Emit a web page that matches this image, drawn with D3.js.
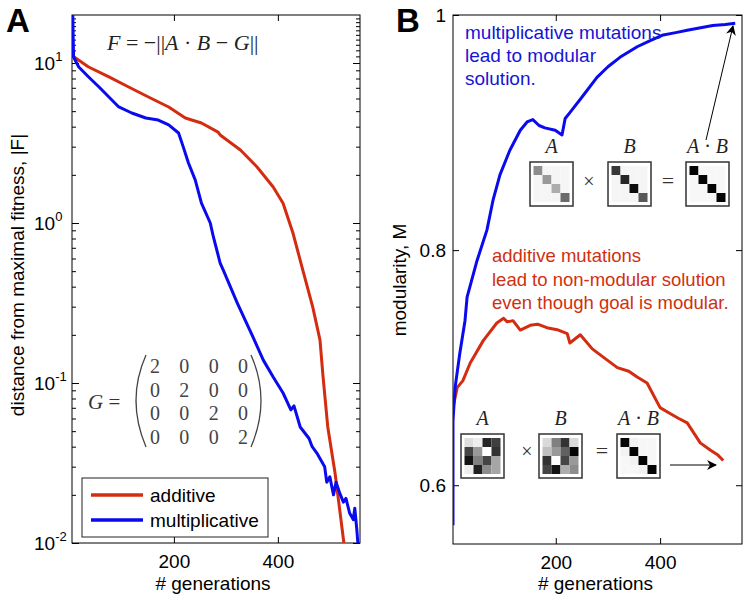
<!DOCTYPE html>
<html>
<head>
<meta charset="utf-8">
<script src="https://cdn.jsdelivr.net/npm/d3@7"></script>
<style>
  body { margin: 0; background: #fff; }
  svg text { font-family: "Liberation Sans", Arial, sans-serif; }
  .serif { font-family: "Liberation Serif", "Times New Roman", serif; }
</style>
</head>
<body>
<svg id="chart" width="748" height="600"></svg>
<script>
// ---- data ----
// panel A: distance from maximal fitness |F| vs generation
var genA_add = [8, 36, 75, 113, 151, 190, 222, 253, 285, 289, 328, 360, 391, 410, 429, 448, 467, 481, 487, 496, 510, 519, 527, 532];
var fitA_add = [10.9, 9.44, 8.18, 7.08, 6.13, 5.31, 4.53, 4.22, 3.70, 3.55, 2.86, 2.24, 1.68, 1.33, 0.866, 0.508, 0.299, 0.186, 0.109, 0.0531, 0.0274, 0.0161, 0.0100, 0.0080];

var genA_mul = [5, 6, 7, 17, 36, 56, 75, 94, 119, 146, 170, 190, 209, 218, 228, 241, 253, 270, 276, 289, 295, 322, 328, 352, 372, 391, 410, 425, 431, 443, 460, 466, 475, 490, 494, 500, 507, 512, 519, 526, 531, 538, 545, 548, 552, 555];
var fitA_mul = [25, 16, 10.9, 9.44, 8.18, 7.08, 6.13, 5.31, 4.87, 4.53, 4.40, 4.10, 3.65, 2.99, 2.37, 1.86, 1.33, 1.0, 0.818, 0.562, 0.508, 0.316, 0.286, 0.194, 0.139, 0.109, 0.0866, 0.068, 0.072, 0.0531, 0.045, 0.040, 0.0365, 0.030, 0.024, 0.0259, 0.020, 0.024, 0.0205, 0.018, 0.019, 0.0154, 0.014, 0.0165, 0.012, 0.009];

// panel B: modularity M vs generation
var genB_mul = [3, 3, 3, 7, 16, 26, 30, 49, 68, 80, 93, 112, 132, 145, 156, 168, 179, 199, 212, 218, 227, 250, 279, 300, 323, 356, 380, 406, 430, 452, 475, 501, 525, 544];
var modB_mul = [0.566, 0.593, 0.655, 0.683, 0.712, 0.740, 0.760, 0.791, 0.817, 0.843, 0.864, 0.885, 0.902, 0.909, 0.911, 0.906, 0.904, 0.902, 0.898, 0.912, 0.917, 0.930, 0.947, 0.956, 0.964, 0.973, 0.978, 0.983, 0.985, 0.987, 0.989, 0.991, 0.992, 0.993];

var genB_add = [3, 11, 22, 36, 61, 87, 100, 107, 118, 132, 151, 165, 183, 205, 222, 227, 247, 270, 291, 318, 340, 356, 375, 400, 419, 435, 452, 477, 496, 510, 521];
var modB_add = [0.666, 0.683, 0.689, 0.704, 0.723, 0.738, 0.742, 0.739, 0.740, 0.732, 0.736, 0.737, 0.734, 0.732, 0.729, 0.721, 0.728, 0.716, 0.709, 0.700, 0.697, 0.692, 0.687, 0.666, 0.661, 0.657, 0.653, 0.636, 0.630, 0.626, 0.621];

// axis ticks
var xTicks = [200, 400];
var logTicksA = [0.01, 0.1, 1, 10];
var logExpA = ["-2", "-1", "0", "1"];
var yTicksB = [0.6, 0.8, 1];
var yTickLabelsB = ["0.6", "0.8", "1"];

// legend
var seriesNames = ["additive", "multiplicative"];
var seriesColors = ["#d42c10", "#0a0aee"];

// goal matrix G
var goalG = [[2, 0, 0, 0], [0, 2, 0, 0], [0, 0, 2, 0], [0, 0, 0, 2]];

// inset matrices, grey level 0 = black, 1 = white
var topA  = [[0.55, 0.96, 0.96, 0.96], [0.96, 0.6, 0.96, 0.96], [0.96, 0.96, 0.68, 0.96], [0.96, 0.96, 0.96, 0.42]];
var topB  = [[0.22, 0.96, 0.96, 0.96], [0.96, 0.15, 0.96, 0.96], [0.96, 0.96, 0.05, 0.96], [0.96, 0.96, 0.96, 0.35]];
var topAB = [[0.02, 0.97, 0.97, 0.97], [0.97, 0.02, 0.97, 0.97], [0.97, 0.97, 0.02, 0.97], [0.97, 0.97, 0.97, 0.02]];
var botA  = [[0.87, 0.93, 0.15, 0.25], [0.27, 0.6, 1.0, 0.2], [0.08, 0.5, 0.27, 0.65], [0.93, 0.13, 0.55, 0.65]];
var botB  = [[0.85, 0.5, 0.2, 0.85], [0.75, 0.6, 0.38, 0.02], [0.2, 1.0, 0.27, 0.6], [0.27, 0.08, 0.68, 0.55]];
var botAB = [[0.02, 0.95, 0.97, 0.97], [0.95, 0.02, 0.97, 0.97], [0.97, 0.95, 0.02, 0.97], [0.97, 0.97, 0.95, 0.02]];

var svg = d3.select("#chart");

// ---------------- panel A ----------------
var mA = {left: 72, right: 360, top: 15, bottom: 543};
var xA = d3.scaleLinear().domain([4, 558]).range([mA.left, mA.right]);
var yA = d3.scaleLog().domain([0.01, Math.pow(10, 1.3)]).range([mA.bottom, mA.top]);

svg.append("clipPath").attr("id", "clipA")
  .append("rect").attr("x", mA.left).attr("y", mA.top)
  .attr("width", mA.right - mA.left).attr("height", mA.bottom - mA.top);

var gA = svg.append("g");

// minor log ticks, both sides
var minorA = yA.ticks().filter(function(d) { return logTicksA.indexOf(d) < 0; });
minorA = minorA.concat([11, 12, 13, 14, 15, 16, 17, 18, 19].filter(function(d){ return d < yA.domain()[1]; }));

gA.append("g").attr("transform", "translate(" + mA.left + ",0)")
  .call(d3.axisLeft(yA).tickValues(minorA).tickSize(-4).tickFormat(""));
gA.append("g").attr("transform", "translate(" + mA.right + ",0)")
  .call(d3.axisRight(yA).tickValues(minorA).tickSize(-4).tickFormat(""));
gA.append("g").attr("transform", "translate(" + mA.left + ",0)")
  .call(d3.axisLeft(yA).tickValues(logTicksA).tickSize(-7).tickFormat(""));
gA.append("g").attr("transform", "translate(" + mA.right + ",0)")
  .call(d3.axisRight(yA).tickValues(logTicksA).tickSize(-7).tickFormat(""));

gA.append("g").attr("class", "x-axis").attr("transform", "translate(0," + mA.bottom + ")")
  .call(d3.axisBottom(xA).tickValues(xTicks).tickSize(-6).tickPadding(12))
  .style("font-size", "19px");
gA.append("g").attr("transform", "translate(0," + mA.top + ")")
  .call(d3.axisTop(xA).tickValues(xTicks).tickSize(-6).tickFormat(""));

gA.selectAll(".domain").remove();
gA.selectAll(".tick line").attr("stroke", "#000");
gA.selectAll(".tick text").attr("fill", "#000").style("font-family", "Liberation Sans, Arial, sans-serif");

gA.append("rect").attr("x", mA.left).attr("y", mA.top)
  .attr("width", mA.right - mA.left).attr("height", mA.bottom - mA.top)
  .attr("fill", "none").attr("stroke", "#000").attr("stroke-width", 1);

// log tick labels with superscripts
var lab = gA.selectAll(".loglab").data(logTicksA).enter().append("text")
  .attr("class", "loglab")
  .attr("x", 34)
  .attr("y", function(d) { return yA(d) + 7; })
  .style("font-size", "19px");
lab.append("tspan").text("10");
lab.append("tspan").attr("dy", -9).style("font-size", "13px")
  .text(function(d, i) { return logExpA[i]; });

// curves
var lineA = d3.line().x(function(d) { return xA(d[0]); }).y(function(d) { return yA(d[1]); });
var curvesA = [d3.zip(genA_add, fitA_add), d3.zip(genA_mul, fitA_mul)];
gA.append("g").attr("clip-path", "url(#clipA)")
  .selectAll("path").data(curvesA).enter().append("path")
  .attr("d", lineA)
  .attr("fill", "none")
  .attr("stroke", function(d, i) { return seriesColors[i]; })
  .attr("stroke-width", 3)
  .attr("stroke-linejoin", "round");

// formula
var f = gA.append("text").attr("class", "serif").attr("x", 107).attr("y", 50)
  .style("font-size", "22px").attr("fill", "#222");
f.append("tspan").style("font-style", "italic").text("F");
f.append("tspan").text(" = \u2212||");
f.append("tspan").style("font-style", "italic").text("A");
f.append("tspan").text(" \u00b7 ");
f.append("tspan").style("font-style", "italic").text("B");
f.append("tspan").text(" \u2212 ");
f.append("tspan").style("font-style", "italic").text("G");
f.append("tspan").text("||");

// G matrix
var gG = gA.append("g");
var gText = gG.append("text").attr("class", "serif").attr("x", 88).attr("y", 409)
  .style("font-size", "21px").attr("fill", "#333");
gText.append("tspan").style("font-style", "italic").text("G");
gText.append("tspan").text(" =");
var colG = d3.scalePoint().domain([0, 1, 2, 3]).range([155, 243]);
var rowG = d3.scalePoint().domain([0, 1, 2, 3]).range([373, 444]);
goalG.forEach(function(row, r) {
  gG.selectAll(null).data(row).enter().append("text").attr("class", "serif")
    .attr("x", function(d, c) { return colG(c); })
    .attr("y", rowG(r))
    .attr("text-anchor", "middle")
    .style("font-size", "20px").attr("fill", "#444")
    .text(function(d) { return d; });
});
gG.append("path").attr("d", "M146,355 Q126,400 146,447").attr("fill", "none").attr("stroke", "#444").attr("stroke-width", 1.3);
gG.append("path").attr("d", "M251,355 Q271,400 251,447").attr("fill", "none").attr("stroke", "#444").attr("stroke-width", 1.3);

// legend
var leg = gA.append("g").attr("transform", "translate(82,478)");
leg.append("rect").attr("width", 186).attr("height", 59).attr("fill", "#fff").attr("stroke", "#222").attr("stroke-width", 1);
var li = leg.selectAll(".li").data(seriesNames).enter().append("g")
  .attr("transform", function(d, i) { return "translate(0," + (17 + i * 25) + ")"; });
li.append("line").attr("x1", 9).attr("x2", 61)
  .attr("stroke", function(d, i) { return seriesColors[i]; }).attr("stroke-width", 3.5);
li.append("text").attr("x", 68).attr("y", 7).style("font-size", "19px").text(function(d) { return d; });

// axis labels
gA.append("text").attr("x", (mA.left + mA.right) / 2 - 3).attr("y", 590)
  .attr("text-anchor", "middle").style("font-size", "19px").text("# generations");
gA.append("text").attr("transform", "translate(24,275) rotate(-90)")
  .attr("text-anchor", "middle").style("font-size", "19px").text("distance from maximal fitness, |F|");
gA.append("text").attr("x", 6).attr("y", 32).style("font-size", "33px").style("font-weight", "bold").text("A");

// ---------------- panel B ----------------
var mB = {left: 453, right: 742, top: 15, bottom: 544};
var xB = d3.scaleLinear().domain([3, 557]).range([mB.left, mB.right]);
var yB = d3.scaleLinear().domain([0.55, 1]).range([mB.bottom, mB.top]);

svg.append("clipPath").attr("id", "clipB")
  .append("rect").attr("x", mB.left).attr("y", mB.top)
  .attr("width", mB.right - mB.left).attr("height", mB.bottom - mB.top);

var gB = svg.append("g");
gB.append("g").attr("transform", "translate(" + mB.left + ",0)")
  .call(d3.axisLeft(yB).tickValues(yTicksB).tickSize(-6).tickPadding(7)
    .tickFormat(function(d, i) { return yTickLabelsB[i]; }))
  .style("font-size", "19px");
gB.append("g").attr("transform", "translate(" + mB.right + ",0)")
  .call(d3.axisRight(yB).tickValues(yTicksB).tickSize(-6).tickFormat(""));
gB.append("g").attr("transform", "translate(0," + mB.bottom + ")")
  .call(d3.axisBottom(xB).tickValues(xTicks).tickSize(-6).tickPadding(12))
  .style("font-size", "19px");
gB.append("g").attr("transform", "translate(0," + mB.top + ")")
  .call(d3.axisTop(xB).tickValues(xTicks).tickSize(-6).tickFormat(""));
gB.selectAll(".domain").remove();
gB.selectAll(".tick line").attr("stroke", "#000");
gB.selectAll(".tick text").attr("fill", "#000").style("font-family", "Liberation Sans, Arial, sans-serif");

gB.append("rect").attr("x", mB.left).attr("y", mB.top)
  .attr("width", mB.right - mB.left).attr("height", mB.bottom - mB.top)
  .attr("fill", "none").attr("stroke", "#000").attr("stroke-width", 1);

var lineB = d3.line().x(function(d) { return xB(d[0]); }).y(function(d) { return yB(d[1]); });
var curvesB = [d3.zip(genB_add, modB_add), d3.zip(genB_mul, modB_mul)];
gB.append("g").attr("clip-path", "url(#clipB)")
  .selectAll("path").data(curvesB).enter().append("path")
  .attr("d", lineB)
  .attr("fill", "none")
  .attr("stroke", function(d, i) { return seriesColors[i]; })
  .attr("stroke-width", 3)
  .attr("stroke-linejoin", "round");

// annotations
var blueNote = ["multiplicative mutations", "lead to modular", "solution."];
var redNote = ["additive mutations", "lead to non-modular solution", "even though goal is modular."];
gB.selectAll(".bn").data(blueNote).enter().append("text")
  .attr("x", 465).attr("y", function(d, i) { return 39 + i * 23; })
  .attr("fill", "#1515d5").style("font-size", "19px").text(function(d) { return d; });
gB.selectAll(".rn").data(redNote).enter().append("text")
  .attr("x", 492).attr("y", function(d, i) { return 262 + i * 23.5; })
  .attr("fill", "#d0300f").style("font-size", "18.5px").text(function(d) { return d; });

// inset matrices
var cellPos = d3.scaleBand().domain([0, 1, 2, 3]).range([3, 39]);
var grey = d3.scaleLinear().domain([0, 1]).range(["#000", "#fff"]);

function drawMatrix(g, m, x, y, label) {
  var mg = g.append("g").attr("transform", "translate(" + x + "," + y + ")");
  mg.append("rect").attr("width", 43).attr("height", 44).attr("fill", "#fff")
    .attr("stroke", "#333").attr("stroke-width", 1.5);
  m.forEach(function(row, r) {
    mg.selectAll(null).data(row).enter().append("rect")
      .attr("x", function(d, c) { return cellPos(c) + 0.5; })
      .attr("y", cellPos(r) + 1)
      .attr("width", cellPos.bandwidth()).attr("height", cellPos.bandwidth())
      .attr("fill", function(d) { return grey(d); });
  });
  var t = mg.append("text").attr("class", "serif").attr("x", 21.5).attr("y", -9)
    .attr("text-anchor", "middle").style("font-size", "20px").attr("fill", "#222");
  label.forEach(function(p) {
    var ts = t.append("tspan").text(p);
    if (p !== " \u00b7 ") ts.style("font-style", "italic");
  });
}

function drawOps(g, xTimes, xEq, y) {
  g.append("text").attr("class", "serif").attr("x", xTimes).attr("y", y + 6)
    .attr("text-anchor", "middle").style("font-size", "20px").attr("fill", "#333").text("\u00d7");
  g.append("text").attr("class", "serif").attr("x", xEq).attr("y", y + 6)
    .attr("text-anchor", "middle").style("font-size", "22px").attr("fill", "#333").text("=");
}

drawMatrix(gB, topA, 530, 162, ["A"]);
drawMatrix(gB, topB, 608, 162, ["B"]);
drawMatrix(gB, topAB, 686, 162, ["A", " \u00b7 ", "B"]);
drawOps(gB, 589, 668, 182);

drawMatrix(gB, botA, 461, 434, ["A"]);
drawMatrix(gB, botB, 539, 434, ["B"]);
drawMatrix(gB, botAB, 617, 434, ["A", " \u00b7 ", "B"]);
drawOps(gB, 527, 602, 452);

// arrows pointing at the end of each curve
svg.append("defs").append("marker").attr("id", "head")
  .attr("viewBox", "0 0 10 10").attr("refX", 9).attr("refY", 5)
  .attr("markerWidth", 14).attr("markerHeight", 10).attr("markerUnits", "userSpaceOnUse")
  .attr("orient", "auto")
  .append("path").attr("d", "M0,0 L10,5 L0,10 L3,5 Z").attr("fill", "#000");
gB.append("line").attr("x1", 706).attr("y1", 140).attr("x2", 733).attr("y2", 26)
  .attr("stroke", "#000").attr("stroke-width", 1).attr("marker-end", "url(#head)");
gB.append("line").attr("x1", 670).attr("y1", 465).attr("x2", 716).attr("y2", 465)
  .attr("stroke", "#000").attr("stroke-width", 1).attr("marker-end", "url(#head)");

gB.append("text").attr("x", (mB.left + mB.right) / 2 - 2).attr("y", 590)
  .attr("text-anchor", "middle").style("font-size", "19px").text("# generations");
gB.append("text").attr("transform", "translate(406,280) rotate(-90)")
  .attr("text-anchor", "middle").style("font-size", "19px").text("modularity, M");
gB.append("text").attr("x", 396).attr("y", 32).style("font-size", "33px").style("font-weight", "bold").text("B");
</script>
</body>
</html>
